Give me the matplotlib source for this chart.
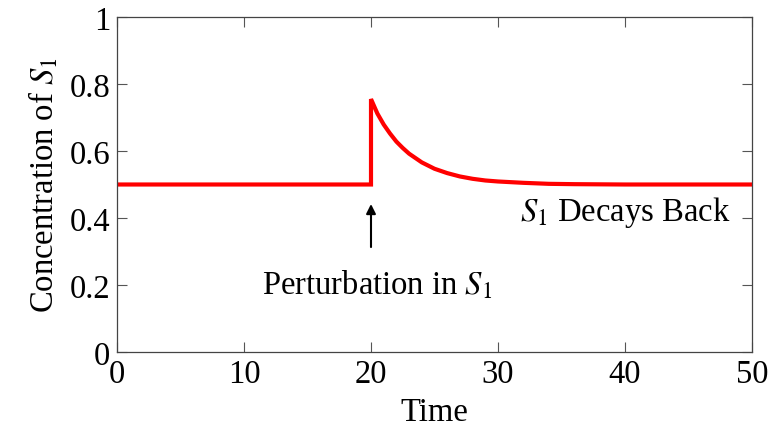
import matplotlib
matplotlib.use("Agg")
import matplotlib.pyplot as plt

time = [0, 20, 20, 20.5, 21, 21.5, 22, 22.5, 23, 24, 25, 26, 27, 28, 29, 30, 32, 34, 36, 40, 50]
conc = [0.5, 0.5, 0.755, 0.712, 0.679, 0.652, 0.628, 0.609, 0.592, 0.566, 0.547, 0.534,
        0.524, 0.517, 0.512, 0.509, 0.505, 0.502, 0.501, 0.5, 0.5]
xticks = [0, 10, 20, 30, 40, 50]
yticks = [0, 0.2, 0.4, 0.6, 0.8, 1]
ytick_labels = ["0", "0.2", "0.4", "0.6", "0.8", "1"]

plt.rcParams['font.family'] = ['Liberation Serif', 'DejaVu Serif']
plt.rcParams['mathtext.fontset'] = 'stix'
fs = 23.5

fig = plt.figure(figsize=(7.72, 4.31), dpi=100)
ax = fig.add_axes([117/772, 1-353/431, (752-117)/772, (353-18)/431])
ax.plot(time, conc, color='#ff0000', lw=3, solid_joinstyle='miter')
ax.set_xlim(0, 50)
ax.set_ylim(0, 1)
ax.set_xticks(xticks)
ax.set_yticks(yticks)
ax.set_yticklabels(ytick_labels)
ax.tick_params(direction='in', length=7.5, width=0.8, color='#555555', labelsize=fs,
               top=True, right=True, pad=5)
for s in ax.spines.values():
    s.set_color('#444444')
    s.set_linewidth(0.9)
ax.set_xlabel('Time', fontsize=fs, labelpad=5)
ax.set_ylabel('Concentration of $S_1$', fontsize=fs, labelpad=6)

ax.annotate('', xy=(20, 0.45), xytext=(20, 0.305),
            arrowprops=dict(arrowstyle='-|>', color='black', lw=1.5, mutation_scale=14))
ax.text(20.5, 0.203, 'Perturbation in $S_1$', fontsize=fs, ha='center', va='center')
ax.text(40, 0.418, '$S_1$ Decays Back', fontsize=fs, ha='center', va='center')

fig.savefig('out.png', dpi=100)
